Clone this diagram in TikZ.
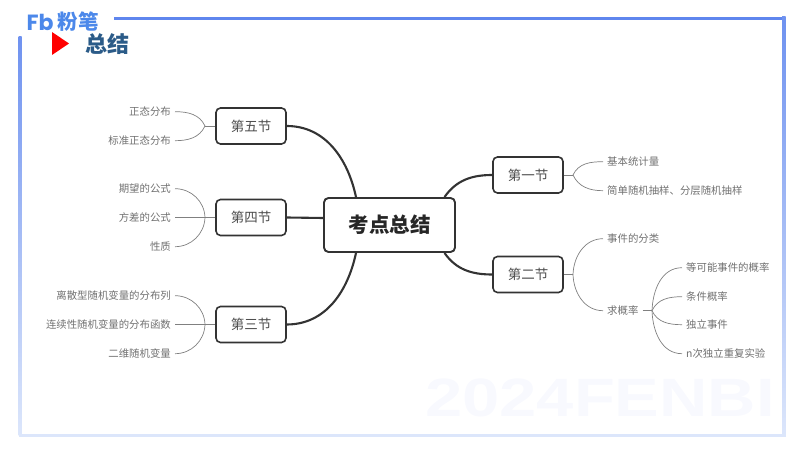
\documentclass[tikz,border=0pt]{standalone}
\usepackage{fontspec}
\setmainfont{Noto Sans CJK SC}
\newfontfamily\markfont{Liberation Sans}
\newfontfamily\logofont{Poppins}
\definecolor{frameblue}{HTML}{5F86EE}
\definecolor{framepale}{HTML}{DCE6FB}
\definecolor{logoblue}{HTML}{4C88EA}
\definecolor{titleblue}{HTML}{2B5B88}
\definecolor{boxdark}{HTML}{333333}
\definecolor{leafgray}{HTML}{707070}
\definecolor{linegray}{HTML}{808080}
\definecolor{markpale}{HTML}{F8F9FE}
\tikzset{
	mainbox/.style={draw=boxdark, line width=1.9pt, rounded corners=4.5pt, fill=white, minimum width=131pt, minimum height=54pt, inner sep=0pt, text=black!85, font=\fontsize{20.5}{22}\selectfont\bfseries},
	secbox/.style={draw=boxdark, line width=1.6pt, rounded corners=4.5pt, fill=white, minimum width=70pt, minimum height=36pt, inner sep=0pt, text=black!70, font=\fontsize{13.5}{15}\selectfont},
	leafleft/.style={anchor=east, yshift=-0.7pt, inner xsep=4pt, inner ysep=0pt, text=leafgray, font=\fontsize{10.4}{12}\selectfont},
	leafright/.style={anchor=west, yshift=-0.7pt, inner xsep=4pt, inner ysep=0pt, text=leafgray, font=\fontsize{10.4}{12}\selectfont},
	trunk/.style={draw=boxdark, line width=2.1pt},
	twig/.style={draw=linegray, line width=0.7pt}
}
\begin{document}
\begin{tikzpicture}[x=1pt, y=1pt]
	\useasboundingbox (0,0) rectangle (800,450);
	% frame
	\fill [frameblue] (114,429.5) rectangle (786,433);
	\shade [top color=frameblue!90, bottom color=framepale] (782,433) rectangle (785.5,15);
	\shade [top color=frameblue!90, bottom color=framepale] (18.5,413) rectangle (21.5,15);
	\fill [framepale] (18.5,13.5) rectangle (785.5,16);
	% watermark
	\node (mark) at (600,52) [xscale=1.24, text=markpale, font=\markfont\fontsize{54}{54}\selectfont\bfseries] {2024FENBI};
	% header
	\node (logoa) at (40,428) [text=logoblue, font=\logofont\fontsize{22}{23}\selectfont\bfseries] {Fb};
	\node (logob) at (78,428) [text=logoblue, font=\fontsize{20.5}{21}\selectfont\bfseries] {粉笔};
	\fill [red] (52,418) -- (69,406.5) -- (52,395) -- cycle;
	\node (title) at (107.5,406) [text=titleblue, font=\fontsize{22}{24}\selectfont\bfseries] {总结};
	% boxes
	\node [mainbox] (main) at (389.5,225) {考点总结};
	\node [secbox] (sec5) at (251,324) {第五节};
	\node [secbox] (sec4) at (251,232.5) {第四节};
	\node [secbox] (sec3) at (251,125.5) {第三节};
	\node [secbox] (sec1) at (528,275) {第一节};
	\node [secbox] (sec2) at (528,175.5) {第二节};
	% leaves
	\node [leafleft] (a1) at (175,339) {正态分布};
	\node [leafleft] (a2) at (175,310) {标准正态分布};
	\node [leafleft] (b1) at (175,262) {期望的公式};
	\node [leafleft] (b2) at (175,233.2) {方差的公式};
	\node [leafleft] (b3) at (175,204) {性质};
	\node [leafleft] (c1) at (175,155) {离散型随机变量的分布列};
	\node [leafleft] (c2) at (175,126.2) {连续性随机变量的分布函数};
	\node [leafleft] (c3) at (175,97) {二维随机变量};
	\node [leafright] (d1) at (603,289) {基本统计量};
	\node [leafright] (d2) at (603,260) {简单随机抽样、分层随机抽样};
	\node [leafright] (e1) at (603,212) {事件的分类};
	\node [leafright] (e2) at (603,140) {求概率};
	\node [leafright] (f1) at (682,183) {等可能事件的概率};
	\node [leafright] (f2) at (682,154) {条件概率};
	\node [leafright] (f3) at (682,126) {独立事件};
	\node [leafright] (f4) at (682,97) {n次独立重复实验};
	% trunk lines
	\draw [trunk] (sec5.east) to [out=0, in=102] ([xshift=-33.5pt]main.north);
	\draw [trunk] (sec4.east) -- ([yshift=7pt]main.west);
	\draw [trunk] (sec3.east) to [out=0, in=-102] ([xshift=-33.5pt]main.south);
	\draw [trunk] (sec1.west) to [out=180, in=55] ([xshift=55pt]main.north);
	\draw [trunk] (sec2.west) to [out=180, in=-55] ([xshift=55pt]main.south);
	% junctions
	\coordinate (ja) at (205,324);
	\coordinate (jb) at (205,232.5);
	\coordinate (jc) at (205,125.5);
	\coordinate (jd) at (573,275);
	\coordinate (je) at (573,175.5);
	\coordinate (jf) at (652,139.3);
	\draw [twig] (sec5.west) -- (ja);
	\draw [twig] (sec4.west) -- (b2.east);
	\draw [twig] (sec3.west) -- (c2.east);
	\draw [twig] (sec1.east) -- (jd);
	\draw [twig] (sec2.east) -- (je);
	\draw [twig, line width=1.1pt] (e2.east) -- (jf);
	% twigs
	\foreach \j/\n/\o in {ja/a1/115, ja/a2/-115, jb/b1/92, jb/b3/-92, jc/c1/92, jc/c3/-92}
	\draw [twig] (\j) to [out=\o, in=0] (\n.east);
	\foreach \j/\n/\o in {jd/d1/65, jd/d2/-65, je/e1/88, je/e2/-88, jf/f1/88, jf/f2/65, jf/f3/-65, jf/f4/-88}
	\draw [twig] (\j) to [out=\o, in=180] (\n.west);
\end{tikzpicture}
\end{document}
